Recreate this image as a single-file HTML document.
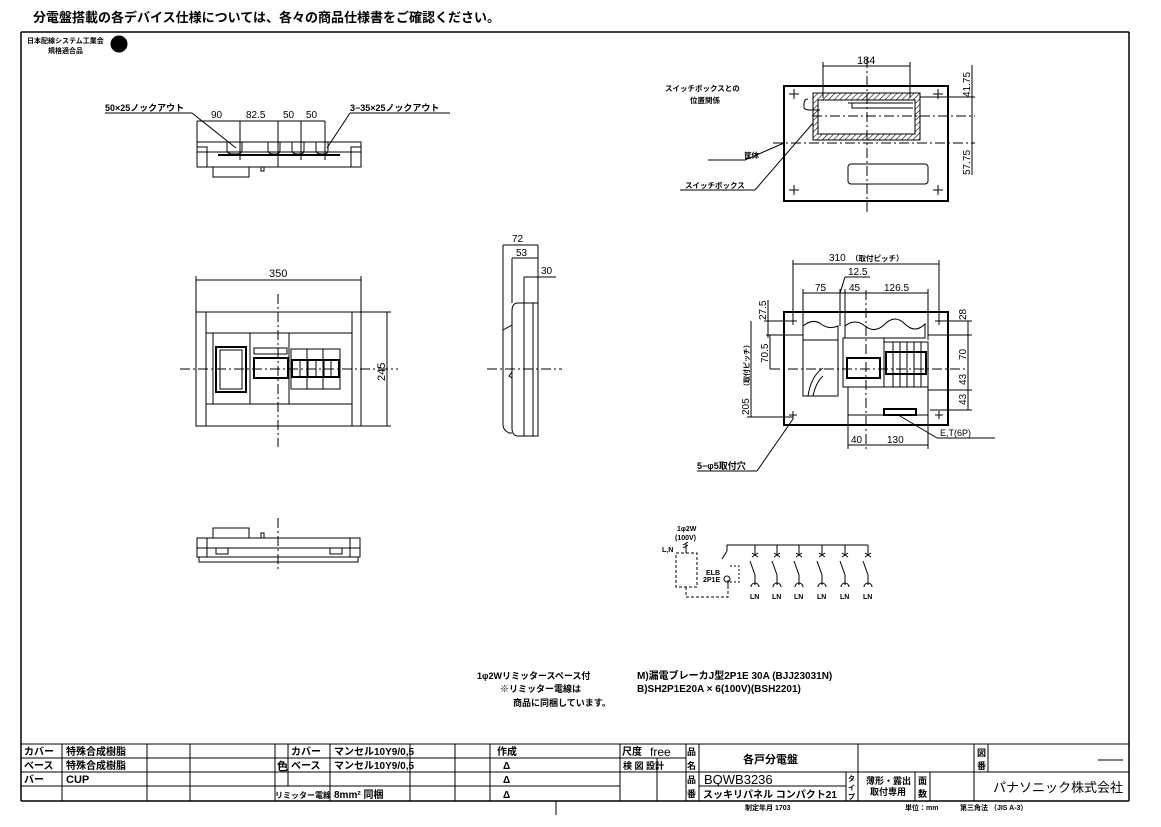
<!DOCTYPE html>
<html><head><meta charset="utf-8"><style>
html,body{margin:0;padding:0;background:#fff;}
svg{display:block;font-family:"Liberation Sans","Noto Sans CJK JP",sans-serif;}
.b{font-weight:bold}
</style></head><body>
<svg width="1161" height="827" viewBox="0 0 1161 827" xmlns="http://www.w3.org/2000/svg">
<defs>
<pattern id="h" width="4" height="4" patternUnits="userSpaceOnUse" patternTransform="rotate(45)">
<line x1="0" y1="0" x2="0" y2="4" stroke="#000" stroke-width="1.2"/>
</pattern>
</defs>
<g fill="none" stroke="#000" stroke-width="1">
<line x1="21" y1="32" x2="1129" y2="32" stroke-width="1.5"/>
<line x1="21" y1="32" x2="21" y2="801" stroke-width="1.5"/>
<line x1="1129" y1="32" x2="1129" y2="801" stroke-width="1.5"/>
<line x1="21" y1="744" x2="1129" y2="744"/>
<line x1="21" y1="801" x2="1129" y2="801" stroke-width="1.5"/>
<line x1="21" y1="758" x2="620" y2="758"/>
<line x1="21" y1="772" x2="1129" y2="772"/>
<line x1="21" y1="786" x2="620" y2="786"/>
<line x1="620" y1="758" x2="686" y2="758"/>
<line x1="699" y1="786" x2="846" y2="786"/>
<line x1="556" y1="801" x2="556" y2="815"/>
<g>
<line x1="62" y1="744" x2="62" y2="801"/><line x1="147" y1="744" x2="147" y2="801"/>
<line x1="190" y1="744" x2="190" y2="801"/><line x1="275" y1="744" x2="275" y2="801"/>
<line x1="288" y1="744" x2="288" y2="786"/><line x1="330" y1="744" x2="330" y2="801"/>
<line x1="410" y1="744" x2="410" y2="801"/><line x1="455" y1="744" x2="455" y2="801"/>
<line x1="490" y1="744" x2="490" y2="801"/><line x1="620" y1="744" x2="620" y2="801"/>
<line x1="657" y1="758" x2="657" y2="801"/><line x1="686" y1="744" x2="686" y2="801"/>
<line x1="699" y1="744" x2="699" y2="801"/><line x1="846" y1="772" x2="846" y2="801"/>
<line x1="858" y1="744" x2="858" y2="801"/><line x1="915" y1="772" x2="915" y2="801"/>
<line x1="930" y1="772" x2="930" y2="801"/><line x1="974" y1="744" x2="974" y2="801"/>
<line x1="988" y1="744" x2="988" y2="772"/>
<line x1="1098" y1="760" x2="1123" y2="760"/>
</g>
</g>
<g font-size="10" class="b" fill="#000">
<text x="24" y="755">カバー</text><text x="66" y="755">特殊合成樹脂</text>
<text x="24" y="769">ベース</text><text x="66" y="769">特殊合成樹脂</text>
<text x="24" y="783">バー</text><text x="66" y="783" font-size="11">CUP</text>
<text x="277" y="770" font-size="11">色</text>
<text x="291" y="755">カバー</text><text x="334" y="755">マンセル10Y9/0,5</text>
<text x="291" y="769">ベース</text><text x="334" y="769">マンセル10Y9/0,5</text>
<text x="275" y="798" font-size="8">リミッター電線</text><text x="334" y="798">8mm² 同梱</text>
<text x="497" y="755">作成</text>
<text x="503" y="769">Δ</text><text x="503" y="783">Δ</text><text x="503" y="798">Δ</text>
<text x="622" y="755">尺度</text><text x="650" y="756" font-weight="normal" font-size="12">free</text>
<text x="623" y="769" font-size="9">検 図 設計</text>
<text x="687" y="755" font-size="9">品</text><text x="687" y="769" font-size="9">名</text>
<text x="743" y="763" font-size="11">各戸分電盤</text>
<text x="687" y="783" font-size="9">品</text><text x="687" y="797" font-size="9">番</text>
<text x="704" y="784" font-weight="normal" font-size="13">BQWB3236</text>
<text x="703" y="798" font-size="10">スッキリパネル コンパクト21</text>
<text x="848" y="781" font-size="7">タ</text><text x="848" y="790" font-size="7">イ</text><text x="848" y="799" font-size="7">プ</text>
<text x="866" y="784" font-size="9">薄形・露出</text><text x="870" y="795" font-size="9">取付専用</text>
<text x="918" y="784" font-size="9">面</text><text x="918" y="797" font-size="9">数</text>
<text x="977" y="756" font-size="9">図</text><text x="977" y="769" font-size="9">番</text>
<text x="993" y="792" font-weight="normal" font-size="13">パナソニック株式会社</text>
<text x="745" y="810" font-size="7">制定年月 1703</text>
<text x="905" y="810" font-size="7">単位：mm</text>
<text x="960" y="810" font-size="7">第三角法 （JIS A-3）</text>
</g>
<text x="33" y="22" font-size="13" class="b">分電盤搭載の各デバイス仕様については、各々の商品仕様書をご確認ください。</text>
<text x="27" y="43" font-size="7" class="b">日本配線システム工業会</text>
<text x="48" y="53" font-size="7" class="b">規格適合品</text>
<circle cx="119" cy="44" r="8.5" fill="#000"/>

<g fill="none" stroke="#000" stroke-width="1">
<rect x="197" y="142" width="164" height="25"/>
<line x1="197" y1="152" x2="361" y2="152"/>
<rect x="197" y="147" width="10" height="20"/><rect x="351" y="147" width="10" height="20"/>
<line x1="218" y1="155" x2="340" y2="155" stroke-width="2"/>
<path d="M227 142v8q0 4 6 4h4q5 0 5-4v-8M268 142v8q0 4 5 4h3q4 0 4-4v-8M292 142v8q0 4 5 4h3q4 0 4-4v-8M316 142v8q0 4 5 4h3q4 0 4-4v-8"/>
<rect x="213" y="167" width="36" height="10"/>
<rect x="261" y="167" width="3" height="4"/>
<line x1="197" y1="121" x2="325" y2="121"/>
<line x1="197" y1="121" x2="197" y2="145"/><line x1="240" y1="121" x2="240" y2="160"/>
<line x1="278" y1="121" x2="278" y2="167"/><line x1="301" y1="121" x2="301" y2="160"/><line x1="325" y1="121" x2="325" y2="160"/>
<line x1="105" y1="113" x2="192" y2="113"/><line x1="192" y1="113" x2="236" y2="148"/>
<line x1="350" y1="113" x2="450" y2="113"/><line x1="350" y1="113" x2="327" y2="148"/>
<rect x="196" y="312" width="165" height="114"/>
<line x1="206" y1="312" x2="206" y2="426"/><line x1="352" y1="312" x2="352" y2="426"/>
<line x1="206" y1="333" x2="352" y2="333"/><line x1="206" y1="404" x2="352" y2="404"/>
<rect x="213" y="333" width="37" height="71"/><rect x="216" y="347" width="30" height="45" stroke-width="2"/>
<rect x="220" y="350" width="22" height="39"/>
<line x1="289" y1="333" x2="289" y2="404"/>
<rect x="254" y="348" width="33" height="6"/>
<rect x="254" y="358" width="34" height="20" stroke-width="2"/>
<rect x="291" y="349" width="49" height="40"/>
<rect x="292" y="360" width="47" height="17" stroke-width="2"/>
<path d="M300 360v17M308 360v17M316 360v17M324 360v17M331 360v17M307 349v40M323 349v40"/>
<line x1="196" y1="280" x2="361" y2="280"/><line x1="196" y1="276" x2="196" y2="312"/><line x1="361" y1="276" x2="361" y2="312"/>
<line x1="387" y1="312" x2="387" y2="426"/><line x1="361" y1="312" x2="391" y2="312"/><line x1="361" y1="426" x2="391" y2="426"/>
<line x1="180" y1="369" x2="398" y2="369" stroke-dasharray="10,3,2,3"/>
<line x1="278" y1="294" x2="278" y2="447" stroke-dasharray="10,3,2,3"/>
<path d="M503 245v180q0 5 6 8h3M512 258v45M524 277v26M538 245v58"/>
<path d="M518 303h20v133h-20q-6 0-6-8v-117q0-8 6-8z"/>
<line x1="524" y1="303" x2="524" y2="436"/><line x1="533" y1="303" x2="533" y2="436"/>
<path d="M503 330l9-5M512 372l-3 4 3 2"/>
<line x1="503" y1="245" x2="538" y2="245"/><line x1="512" y1="258" x2="538" y2="258"/><line x1="524" y1="277" x2="556" y2="277"/>
<line x1="487" y1="369" x2="562" y2="369" stroke-dasharray="10,3,2,3"/>
<rect x="197" y="538" width="163" height="19"/>
<line x1="197" y1="548" x2="360" y2="548"/>
<rect x="197" y="538" width="10" height="19"/><rect x="350" y="538" width="10" height="19"/>
<rect x="213" y="528" width="36" height="10"/><rect x="261" y="533" width="3" height="5"/>
<path d="M199 557v5h159v-5M216 548v6h12v-6M330 548v6h12v-6"/>
<line x1="278" y1="518" x2="278" y2="572" stroke-dasharray="10,3,2,3"/>
<rect x="784" y="86" width="164" height="115" stroke-width="2"/>
<path d="M813 93h107v47h-107zM818 100v34h97v-34z" fill="url(#h)" fill-rule="evenodd" stroke="#000"/>
<path d="M808 99q-4 0-4 5v3q0 3 6 3h10M848 103h65M852 103v5h61"/>
<rect x="848" y="164" width="80" height="20" rx="3"/>
<path d="M794 89v10M789 94h10M938 89v10M933 94h10M794 185v10M789 190h10M938 185v10M933 190h10"/>
<line x1="867" y1="58" x2="867" y2="212" stroke-dasharray="10,3,2,3"/>
<line x1="773" y1="143" x2="975" y2="143" stroke-dasharray="10,3,2,3"/>
<line x1="812" y1="116" x2="975" y2="116" stroke-dasharray="10,3,2,3"/>
<line x1="823" y1="66" x2="910" y2="66"/><line x1="823" y1="62" x2="823" y2="98"/><line x1="910" y1="62" x2="910" y2="98"/>
<line x1="920" y1="97" x2="975" y2="97"/>
<line x1="972" y1="65" x2="972" y2="175"/>
<line x1="745" y1="160" x2="784" y2="143"/><line x1="708" y1="160" x2="745" y2="160"/>
<line x1="755" y1="190" x2="813" y2="123"/><line x1="680" y1="190" x2="755" y2="190"/>
<rect x="784" y="312" width="164" height="113" stroke-width="2"/>
<path d="M803 326q10-8 18-2t17 2v14h-35z"/>
<path d="M845 326q10-8 20 0t20-2t20 0t20 0v14h-80z"/>
<rect x="803" y="340" width="35" height="56"/>
<path d="M808 396q3-20 15-28M813 396q3-14 10-20"/>
<rect x="843" y="338" width="41" height="49"/>
<rect x="847" y="358" width="33" height="20" stroke-width="2"/>
<rect x="884" y="342" width="44" height="45"/>
<rect x="886" y="352" width="40" height="22" stroke-width="2"/>
<path d="M893 342v45M900 342v45M907 342v45M914 342v45M921 342v45"/>
<path d="M848 387v28h80v-28"/>
<rect x="884" y="409" width="32" height="6" stroke-width="2"/>
<path d="M793 317v8M789 321h8M939 317v8M935 321h8M793 411v8M789 415h8M939 411v8M935 415h8"/>
<line x1="866" y1="290" x2="866" y2="450" stroke-dasharray="10,3,2,3"/>
<line x1="770" y1="369" x2="968" y2="369" stroke-dasharray="10,3,2,3"/>
<line x1="793" y1="264" x2="939" y2="264"/><line x1="793" y1="260" x2="793" y2="318"/><line x1="939" y1="260" x2="939" y2="318"/>
<line x1="803" y1="293" x2="928" y2="293"/>
<line x1="803" y1="289" x2="803" y2="340"/><line x1="840" y1="289" x2="840" y2="326"/><line x1="845" y1="289" x2="845" y2="326"/><line x1="928" y1="289" x2="928" y2="340"/>
<line x1="845" y1="277" x2="870" y2="277"/><line x1="845" y1="277" x2="840" y2="293"/>
<line x1="768" y1="300" x2="768" y2="338"/><line x1="764" y1="321" x2="793" y2="321"/>
<line x1="770" y1="335" x2="770" y2="369"/><line x1="766" y1="335" x2="803" y2="335"/>
<line x1="751" y1="321" x2="751" y2="417"/><line x1="747" y1="417" x2="793" y2="417"/>
<line x1="968" y1="321" x2="968" y2="410"/><line x1="939" y1="321" x2="972" y2="321"/>
<line x1="928" y1="335" x2="972" y2="335"/><line x1="928" y1="390" x2="972" y2="390"/><line x1="930" y1="410" x2="972" y2="410"/>
<line x1="848" y1="445" x2="928" y2="445"/><line x1="848" y1="415" x2="848" y2="449"/><line x1="928" y1="415" x2="928" y2="449"/>
<line x1="900" y1="416" x2="937" y2="438"/><line x1="937" y1="438" x2="995" y2="438"/>
<line x1="793" y1="419" x2="757" y2="471"/><line x1="697" y1="471" x2="757" y2="471"/>
<rect x="676" y="553" width="21" height="34" stroke-dasharray="3,2"/>
<path d="M686 553v-10M683 548l5-3M683 545l5-3"/>
<path d="M686 587v10h42v-10" stroke-dasharray="3,2"/>
<path d="M727 551v-6h141"/>
<path d="M727 551l-5 8M728 588v-8" /><circle cx="727" cy="579" r="3"/>
<path d="M730 566h9v16h-9" stroke-dasharray="2,2"/>
<g id="br">
<path d="M755 545v10M752 553l6 4M752 557l6-4M750 561l5 14v10M751 587a4 4 0 0 1 8 0"/>
</g>
<use href="#br" x="22"/><use href="#br" x="44"/><use href="#br" x="67"/><use href="#br" x="90"/><use href="#br" x="113"/>
</g>
<g font-size="10" fill="#000">
<text x="105" y="111" class="b" font-size="9">50×25ノックアウト</text>
<text x="350" y="111" class="b" font-size="9">3−35×25ノックアウト</text>
<text x="211" y="118">90</text><text x="246" y="118">82.5</text><text x="283" y="118">50</text><text x="306" y="118">50</text>
<text x="269" y="277" font-size="11">350</text>
<text x="0" y="0" font-size="11" transform="translate(385,381) rotate(-90)">245</text>
<text x="512" y="242">72</text><text x="516" y="256">53</text><text x="541" y="274">30</text>
<text x="857" y="64" font-size="11">184</text>
<text x="0" y="0" transform="translate(970,97) rotate(-90)">41.75</text>
<text x="0" y="0" transform="translate(970,175) rotate(-90)">57.75</text>
<text x="665" y="91" class="b" font-size="7.5">スイッチボックスとの</text>
<text x="690" y="103" class="b" font-size="7.5">位置関係</text>
<text x="744" y="158" class="b" font-size="7.5">筐体</text>
<text x="685" y="188" class="b" font-size="7.5">スイッチボックス</text>
<text x="829" y="261">310</text><text x="851" y="261" font-size="7.5" class="b">（取付ピッチ）</text>
<text x="848" y="275">12.5</text>
<text x="815" y="291">75</text><text x="849" y="291">45</text><text x="884" y="291">126.5</text>
<text x="0" y="0" transform="translate(766,320) rotate(-90)">27.5</text>
<text x="0" y="0" transform="translate(768,363) rotate(-90)">70.5</text>
<text x="0" y="0" transform="translate(749,415) rotate(-90)">205</text>
<text x="0" y="0" font-size="7" class="b" transform="translate(749,390) rotate(-90)">（取付ピッチ）</text>
<text x="0" y="0" transform="translate(966,320) rotate(-90)">28</text>
<text x="0" y="0" transform="translate(966,360) rotate(-90)">70</text>
<text x="0" y="0" transform="translate(966,385) rotate(-90)">43</text>
<text x="0" y="0" transform="translate(966,405) rotate(-90)">43</text>
<text x="851" y="443">40</text><text x="887" y="443">130</text>
<text x="940" y="436" font-size="9">E,T(6P)</text>
<text x="697" y="469" font-size="9" class="b">5−φ5取付穴</text>
<g font-size="7" class="b">
<text x="677" y="531">1φ2W</text><text x="675" y="540">(100V)</text><text x="662" y="552">L,N</text>
<text x="706" y="575">ELB</text><text x="703" y="582">2P1E</text>
<text x="750" y="599">LN</text><text x="772" y="599">LN</text><text x="794" y="599">LN</text><text x="817" y="599">LN</text><text x="840" y="599">LN</text><text x="863" y="599">LN</text>
</g>
<g class="b" font-size="9">
<text x="477" y="679">1φ2Wリミッタースペース付</text>
<text x="500" y="692">※リミッター電線は</text>
<text x="513" y="706">商品に同梱しています。</text>
<text x="637" y="679" font-size="10">M)漏電ブレーカJ型2P1E 30A (BJJ23031N)</text>
<text x="637" y="692" font-size="10">B)SH2P1E20A × 6(100V)(BSH2201)</text>
</g>
</g>
</svg>
</body></html>
